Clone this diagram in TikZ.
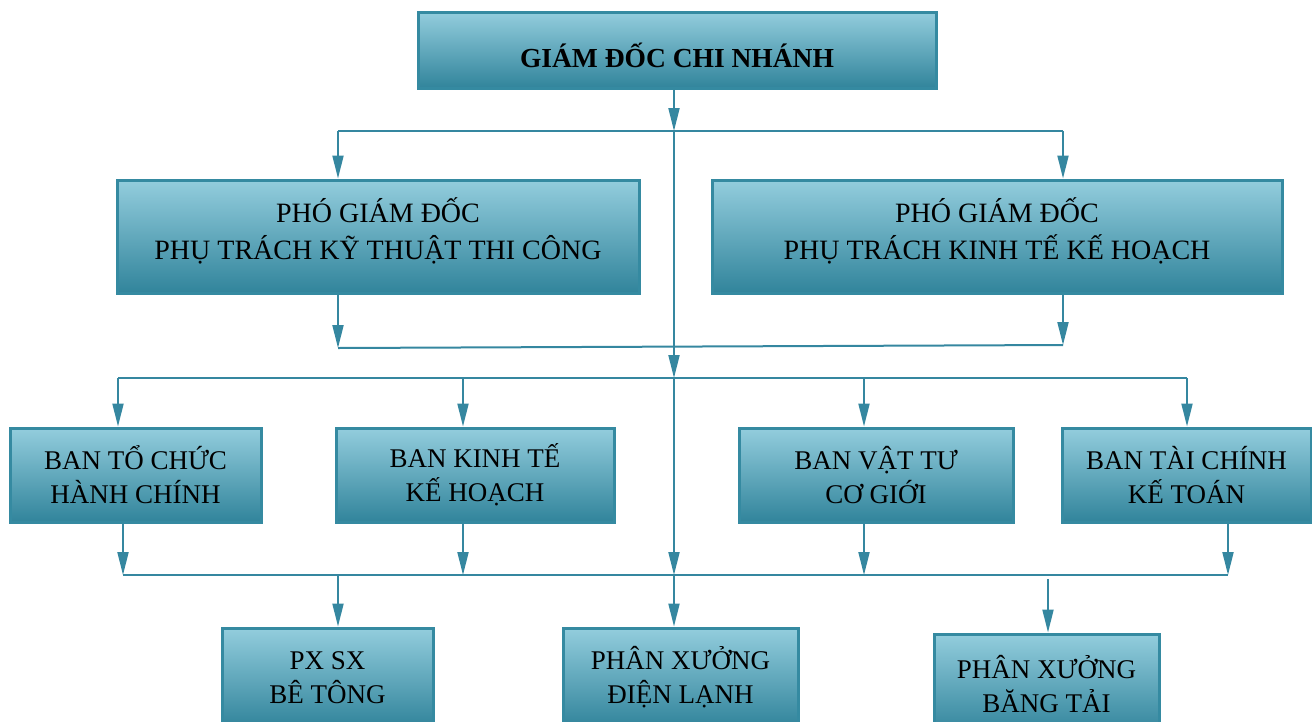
\documentclass[tikz,border=0pt]{standalone}
\usepackage{fontspec}
\setmainfont{Liberation Serif}
\usetikzlibrary{arrows.meta}
\definecolor{boxtop}{HTML}{93CDDD}
\definecolor{boxbot}{HTML}{31849B}
\definecolor{boxedge}{HTML}{358AA1}
\definecolor{linkcol}{HTML}{3587A0}
% shift content vertically while keeping its box size
\newcommand\nudge[2]{\raisebox{#1}[\height][\depth]{#2}}
\newcommand\pairlines[2]{\begin{tabular}{@{}c@{}}#1\\#2\end{tabular}}
\tikzset{
  orgbox/.style={draw=boxedge, line width=3pt, top color=boxtop, bottom color=boxbot,
    inner sep=0pt, align=center, text=black},
  headbox/.style={orgbox, font=\fontsize{27.5}{32}\selectfont\bfseries},
  deputybox/.style={orgbox, font=\fontsize{28}{37}\selectfont},
  unitbox/.style={orgbox, font=\fontsize{27}{34}\selectfont},
  link/.style={draw=linkcol, line width=2pt},
  arr/.style={link, -{Triangle[length=23pt, width=11pt]}},
}
\begin{document}
\begin{tikzpicture}[x=1pt, y=-1pt]
\useasboundingbox (0,0) rectangle (1312,721);

% Director
\node[headbox, minimum width=518pt, minimum height=76pt] (gd) at (677,50)
  {\nudge{-5pt}{GIÁM ĐỐC CHI NHÁNH}};

% Deputy directors
\node[deputybox, minimum width=522pt, minimum height=113pt] (pgd1) at (378,236.5)
  {\nudge{2.5pt}{\pairlines{PHÓ GIÁM ĐỐC}{PHỤ TRÁCH KỸ THUẬT THI CÔNG}}};
\node[deputybox, minimum width=570pt, minimum height=113pt] (pgd2) at (997,236.5)
  {\nudge{2.5pt}{\pairlines{PHÓ GIÁM ĐỐC}{PHỤ TRÁCH KINH TẾ KẾ HOẠCH}}};

% Departments
\node[unitbox, minimum width=251pt, minimum height=94pt] (b1) at (135.5,475) {BAN TỔ CHỨC\\HÀNH CHÍNH};
\node[unitbox, minimum width=278pt, minimum height=94pt] (b2) at (475,475) {BAN KINH TẾ\\KẾ HOẠCH};
\node[unitbox, minimum width=274pt, minimum height=94pt] (b3) at (876,475) {BAN VẬT TƯ\\CƠ GIỚI};
\node[unitbox, minimum width=249pt, minimum height=94pt] (b4) at (1186.5,475) {BAN TÀI CHÍNH\\KẾ TOÁN};

% Workshops
\node[unitbox, minimum width=211pt, minimum height=99pt] (p1) at (327.5,677.5) {PX SX\\BÊ TÔNG};
\node[unitbox, minimum width=235pt, minimum height=99pt] (p2) at (680.5,677.5) {PHÂN XƯỞNG\\ĐIỆN LẠNH};
\node[unitbox, minimum width=225pt, minimum height=100pt] (p3) at (1046.5,684) {PHÂN XƯỞNG\\BĂNG TẢI};

% Junction points on the bus lines
\coordinate (j1) at (674,131);
\coordinate (j1l) at (338,131);
\coordinate (j1r) at (1063,131);
\coordinate (j2l) at (338,348);
\coordinate (j2r) at (1063,345);
\coordinate (j3) at (674,378);
\coordinate (j3a) at (118,378);
\coordinate (j3b) at (463,378);
\coordinate (j3c) at (864,378);
\coordinate (j3d) at (1187,378);
\coordinate (j4) at (674,575);
\coordinate (j4a) at (123,575);
\coordinate (j4b) at (463,575);
\coordinate (j4c) at (864,575);
\coordinate (j4d) at (1228,575);
\coordinate (j4e) at (338,575);
\coordinate (j5) at (1048,579);

% Main trunk
\draw[arr] (gd.south -| j1) -- (j1);
\draw[arr] (j1) -- (j3);
\draw[arr] (j3) -- (j4);
\draw[arr] (j4) -- (j4 |- p2.north);

% Director to deputies
\draw[link] (j1l) -- (j1r);
\draw[arr] (j1l) -- (j1l |- pgd1.north);
\draw[arr] (j1r) -- (j1r |- pgd2.north);

% Deputies back to the trunk
\draw[arr] (pgd1.south -| j2l) -- (j2l);
\draw[arr] (pgd2.south -| j2r) -- (j2r);
\draw[link] (j2l) -- (j2r);

% Bus to departments
\draw[link] (j3a) -- (j3d);
\draw[arr] (j3a) -- (j3a |- b1.north);
\draw[arr] (j3b) -- (j3b |- b2.north);
\draw[arr] (j3c) -- (j3c |- b3.north);
\draw[arr] (j3d) -- (j3d |- b4.north);

% Departments to lower bus
\draw[arr] (b1.south -| j4a) -- (j4a);
\draw[arr] (b2.south -| j4b) -- (j4b);
\draw[arr] (b3.south -| j4c) -- (j4c);
\draw[arr] (b4.south -| j4d) -- (j4d);
\draw[link] (j4a) -- (j4d);

% Lower bus to workshops
\draw[arr] (j4e) -- (j4e |- p1.north);
\draw[arr] (j5) -- (j5 |- p3.north);
\end{tikzpicture}
\end{document}
